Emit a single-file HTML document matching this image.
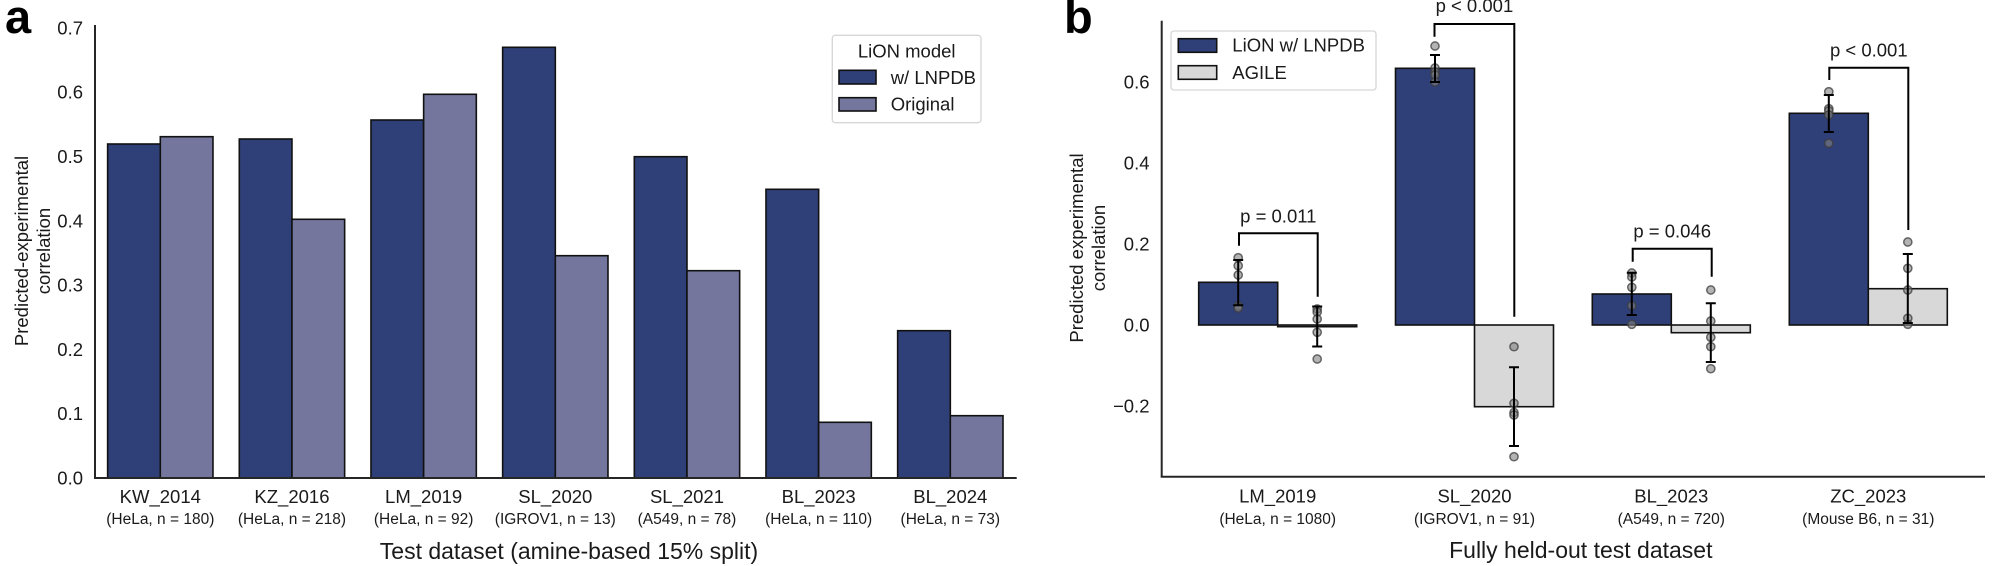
<!DOCTYPE html>
<html><head><meta charset="utf-8"><style>
html,body{margin:0;padding:0;background:#fff;}
svg{display:block;}
text{font-family:"Liberation Sans",Arial,sans-serif;fill:#1a1a1a;}
</style></head><body>
<svg width="2000" height="566" viewBox="0 0 2000 566" xmlns="http://www.w3.org/2000/svg">
<!-- ============ Panel a ============ -->
<text x="5" y="33" font-size="47" font-weight="bold" style="fill:#000">a</text>
<g stroke="#111" stroke-width="1.6">
<rect x="107.63" y="144" width="52.67" height="334" fill="#2f3f78"/>
<rect x="160.3" y="136.7" width="52.67" height="341.3" fill="#74769e"/>
<rect x="239.3" y="139" width="52.67" height="339" fill="#2f3f78"/>
<rect x="291.97" y="219.3" width="52.67" height="258.7" fill="#74769e"/>
<rect x="370.97" y="120" width="52.67" height="358" fill="#2f3f78"/>
<rect x="423.64" y="94.3" width="52.67" height="383.7" fill="#74769e"/>
<rect x="502.64" y="47.3" width="52.67" height="430.7" fill="#2f3f78"/>
<rect x="555.31" y="255.7" width="52.67" height="222.3" fill="#74769e"/>
<rect x="634.31" y="156.7" width="52.67" height="321.3" fill="#2f3f78"/>
<rect x="686.98" y="270.7" width="52.67" height="207.3" fill="#74769e"/>
<rect x="765.98" y="189.3" width="52.67" height="288.7" fill="#2f3f78"/>
<rect x="818.65" y="422.3" width="52.67" height="55.7" fill="#74769e"/>
<rect x="897.65" y="330.7" width="52.67" height="147.3" fill="#2f3f78"/>
<rect x="950.32" y="415.7" width="52.67" height="62.3" fill="#74769e"/>
</g>
<line x1="95" y1="25" x2="95" y2="478" stroke="#262626" stroke-width="2"/>
<line x1="94" y1="478" x2="1016.7" y2="478" stroke="#262626" stroke-width="2"/>
<g font-size="18.5" text-anchor="end">
<text x="83" y="34.4">0.7</text>
<text x="83" y="98.7">0.6</text>
<text x="83" y="163">0.5</text>
<text x="83" y="227.3">0.4</text>
<text x="83" y="291.6">0.3</text>
<text x="83" y="355.9">0.2</text>
<text x="83" y="420.2">0.1</text>
<text x="83" y="484.5">0.0</text>
</g>
<text transform="translate(28,251) rotate(-90)" font-size="18.5" text-anchor="middle">Predicted-experimental</text>
<text transform="translate(50,251) rotate(-90)" font-size="18.5" text-anchor="middle">correlation</text>
<g font-size="18.5" text-anchor="middle">
<text x="160.3" y="503">KW_2014</text>
<text x="291.97" y="503">KZ_2016</text>
<text x="423.64" y="503">LM_2019</text>
<text x="555.31" y="503">SL_2020</text>
<text x="686.98" y="503">SL_2021</text>
<text x="818.65" y="503">BL_2023</text>
<text x="950.32" y="503">BL_2024</text>
</g>
<g font-size="15.5" text-anchor="middle">
<text x="160.3" y="524">(HeLa, n = 180)</text>
<text x="291.97" y="524">(HeLa, n = 218)</text>
<text x="423.64" y="524">(HeLa, n = 92)</text>
<text x="555.31" y="524">(IGROV1, n = 13)</text>
<text x="686.98" y="524">(A549, n = 78)</text>
<text x="818.65" y="524">(HeLa, n = 110)</text>
<text x="950.32" y="524">(HeLa, n = 73)</text>
</g>
<text x="569" y="559" font-size="23" text-anchor="middle">Test dataset (amine-based 15% split)</text>
<rect x="832.3" y="35.3" width="148.7" height="87.4" rx="3" fill="#fff" stroke="#d6d6d6" stroke-width="1.3"/>
<text x="906.7" y="57.3" font-size="18.5" text-anchor="middle">LiON model</text>
<rect x="839" y="70.3" width="37" height="13.7" fill="#2f3f78" stroke="#111" stroke-width="1.6"/>
<rect x="839" y="97.7" width="37" height="13.3" fill="#74769e" stroke="#111" stroke-width="1.6"/>
<text x="890.7" y="84" font-size="18.5">w/ LNPDB</text>
<text x="890.7" y="110.5" font-size="18.5">Original</text>

<!-- ============ Panel b ============ -->
<text x="1064" y="33" font-size="47" font-weight="bold" style="fill:#000">b</text>
<g stroke="#111" stroke-width="1.6">
<rect x="1198.7" y="282.3" width="79" height="42.7" fill="#2f3f78"/>
<rect x="1277.7" y="325" width="79" height="1.7" fill="#d8d8d8"/>
<rect x="1395.5" y="68.3" width="79" height="256.7" fill="#2f3f78"/>
<rect x="1474.5" y="325" width="79" height="81.7" fill="#d8d8d8"/>
<rect x="1592.3" y="294" width="79" height="31" fill="#2f3f78"/>
<rect x="1671.3" y="325" width="79" height="7.7" fill="#d8d8d8"/>
<rect x="1789.3" y="113.3" width="79" height="211.7" fill="#2f3f78"/>
<rect x="1868.3" y="288.7" width="79" height="36.3" fill="#d8d8d8"/>
</g>
<g fill="#808080" fill-opacity="0.6" stroke="#3c3c3c" stroke-opacity="0.75" stroke-width="1.5">
<circle cx="1238.2" cy="257.7" r="4.1"/><circle cx="1238.2" cy="265.7" r="4.1"/><circle cx="1238.2" cy="275" r="4.1"/><circle cx="1238.2" cy="306" r="4.1"/><circle cx="1238.2" cy="308" r="4.1"/>
<circle cx="1317.2" cy="309" r="4.1"/><circle cx="1317.2" cy="312" r="4.1"/><circle cx="1317.2" cy="319" r="4.1"/><circle cx="1317.2" cy="332.3" r="4.1"/><circle cx="1317.2" cy="359" r="4.1"/>
<circle cx="1435" cy="46" r="4.1"/><circle cx="1435" cy="68" r="4.1"/><circle cx="1435" cy="72" r="4.1"/><circle cx="1435" cy="75" r="4.1"/><circle cx="1435" cy="82" r="4.1"/>
<circle cx="1514" cy="346.7" r="4.1"/><circle cx="1514" cy="403.3" r="4.1"/><circle cx="1514" cy="412.5" r="4.1"/><circle cx="1514" cy="415" r="4.1"/><circle cx="1514" cy="456.7" r="4.1"/>
<circle cx="1631.8" cy="273" r="4.1"/><circle cx="1631.8" cy="277" r="4.1"/><circle cx="1631.8" cy="287.3" r="4.1"/><circle cx="1631.8" cy="305.7" r="4.1"/><circle cx="1631.8" cy="324.3" r="4.1"/>
<circle cx="1710.8" cy="290" r="4.1"/><circle cx="1710.8" cy="321" r="4.1"/><circle cx="1710.8" cy="337.3" r="4.1"/><circle cx="1710.8" cy="346.7" r="4.1"/><circle cx="1710.8" cy="368.7" r="4.1"/>
<circle cx="1828.8" cy="91.7" r="4.1"/><circle cx="1828.8" cy="108.7" r="4.1"/><circle cx="1828.8" cy="111" r="4.1"/><circle cx="1828.8" cy="115" r="4.1"/><circle cx="1828.8" cy="143.3" r="4.1"/>
<circle cx="1907.8" cy="242" r="4.1"/><circle cx="1907.8" cy="268.3" r="4.1"/><circle cx="1907.8" cy="290" r="4.1"/><circle cx="1907.8" cy="318.3" r="4.1"/><circle cx="1907.8" cy="324.3" r="4.1"/>
</g>
<g stroke="#000" stroke-width="2" fill="none">
<path d="M1238.2 260V305.3M1233.2 260H1243.2M1233.2 305.3H1243.2"/>
<path d="M1317.2 306.5V346.5M1312.2 306.5H1322.2M1312.2 346.5H1322.2"/>
<path d="M1435 55V82M1430 55H1440M1430 82H1440"/>
<path d="M1514 367.3V446M1509 367.3H1519M1509 446H1519"/>
<path d="M1631.8 272.7V315M1626.8 272.7H1636.8M1626.8 315H1636.8"/>
<path d="M1710.8 303.3V362M1705.8 303.3H1715.8M1705.8 362H1715.8"/>
<path d="M1828.8 95V132M1823.8 95H1833.8M1823.8 132H1833.8"/>
<path d="M1907.8 254V323M1902.8 254H1912.8M1902.8 323H1912.8"/>
</g>
<g stroke="#000" stroke-width="2" fill="none">
<path d="M1239 245.7V233.3H1317.7V296.7"/>
<path d="M1434.5 36.7V24H1514.3V316.7"/>
<path d="M1632.7 261.7V248.7H1711.7V276.7"/>
<path d="M1829.3 80V67.7H1908.3V230"/>
</g>
<g font-size="18.5" text-anchor="middle">
<text x="1278.3" y="222.5">p = 0.011</text>
<text x="1474.4" y="12">p &lt; 0.001</text>
<text x="1672.2" y="237.5">p = 0.046</text>
<text x="1868.8" y="56.7">p &lt; 0.001</text>
</g>
<line x1="1161.7" y1="20.7" x2="1161.7" y2="476.7" stroke="#262626" stroke-width="2"/>
<line x1="1160.7" y1="476.7" x2="1985" y2="476.7" stroke="#262626" stroke-width="2"/>
<g font-size="18.5" text-anchor="end">
<text x="1149.5" y="88.4">0.6</text>
<text x="1149.5" y="169.4">0.4</text>
<text x="1149.5" y="250.4">0.2</text>
<text x="1149.5" y="331.4">0.0</text>
<text x="1149.5" y="412.4">−0.2</text>
</g>
<text transform="translate(1083,248) rotate(-90)" font-size="18.5" text-anchor="middle">Predicted experimental</text>
<text transform="translate(1105,248) rotate(-90)" font-size="18.5" text-anchor="middle">correlation</text>
<g font-size="18.5" text-anchor="middle">
<text x="1277.7" y="502.5">LM_2019</text>
<text x="1474.5" y="502.5">SL_2020</text>
<text x="1671.3" y="502.5">BL_2023</text>
<text x="1868.3" y="502.5">ZC_2023</text>
</g>
<g font-size="15.5" text-anchor="middle">
<text x="1277.7" y="524">(HeLa, n = 1080)</text>
<text x="1474.5" y="524">(IGROV1, n = 91)</text>
<text x="1671.3" y="524">(A549, n = 720)</text>
<text x="1868.3" y="524">(Mouse B6, n = 31)</text>
</g>
<text x="1580.8" y="558" font-size="23" text-anchor="middle">Fully held-out test dataset</text>
<rect x="1171" y="31" width="205" height="59" rx="3" fill="#fff" stroke="#d6d6d6" stroke-width="1.3"/>
<rect x="1178.3" y="38.7" width="38.4" height="13.6" fill="#2f3f78" stroke="#111" stroke-width="1.6"/>
<rect x="1178.3" y="65.7" width="38.4" height="13.6" fill="#d8d8d8" stroke="#111" stroke-width="1.6"/>
<text x="1232.3" y="51.5" font-size="18.5">LiON w/ LNPDB</text>
<text x="1232.3" y="78.8" font-size="18.5">AGILE</text>
</svg>
</body></html>
